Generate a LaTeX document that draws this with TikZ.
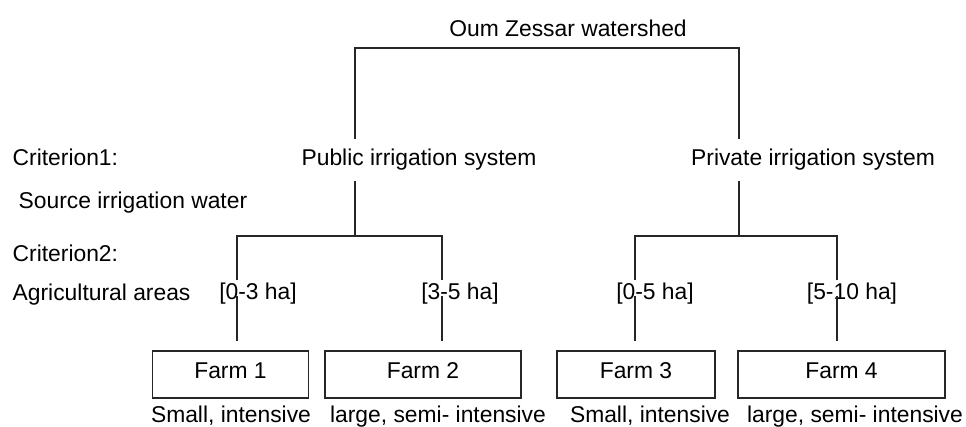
\documentclass[tikz,border=0pt]{standalone}
\usepackage{fontspec}
\setmainfont{Liberation Sans}
\tikzset{
	lbl/.style={inner sep=0pt, text height=0.8em, text depth=0.2em},
	sys/.style={lbl, inner ysep=6.5pt},
	rng/.style={lbl, inner ysep=2.8pt},
	farm/.style={draw, inner sep=0pt, text height=0.7em, text depth=0.3em, minimum height=0.94cm, outer sep=5.7pt},
}

\begin{document}
\begin{tikzpicture}[x=0.02cm, y=-0.02cm, font=\fontsize{13}{15}\selectfont, line width=0.8pt, draw=black!85]
		\useasboundingbox (0,0) rectangle (966,426);
		\node (w)    [lbl]               at (568,31)  {Oum Zessar watershed};
		\node (pub)  [sys]               at (419,160) {Public irrigation system};
		\node (priv) [sys]               at (813,160) {Private irrigation system};
		\node (c1)   [lbl, anchor=west]  at (12,160)  {Criterion1:};
		\node (src)  [lbl, anchor=west]  at (18,203)  {Source irrigation water};
		\node (c2)   [lbl, anchor=west]  at (12,256)  {Criterion2:};
		\node (agr)  [lbl, anchor=west]  at (12,295)  {Agricultural areas};
		\node (r1)   [rng]               at (258,294.5) {[0-3 ha]};
		\node (r2)   [rng]               at (460,294.5) {[3-5 ha]};
		\node (r3)   [rng]               at (655,294.5) {[0-5 ha]};
		\node (r4)   [rng]               at (852,294.5) {[5-10 ha]};
		\node (f1)   [farm, minimum width=3.12cm] at (230.5,374.5) {Farm 1};
		\node (f2)   [farm, minimum width=3.92cm] at (423,374.5)   {Farm 2};
		\node (f3)   [farm, minimum width=3.16cm] at (636,374.5)   {Farm 3};
		\node (f4)   [farm, minimum width=4.14cm] at (841.5,374.5) {Farm 4};
		\node (d1)   [lbl]               at (231,417) {Small, intensive};
		\node (d2)   [lbl]               at (438,417) {large, semi- intensive};
		\node (d3)   [lbl]               at (650,417) {Small, intensive};
		\node (d4)   [lbl]               at (855,417) {large, semi- intensive};
		% branch points
		\coordinate (j0) at (355,48);
		\coordinate (j1) at (739,48);
		\coordinate (a0) at (355,236);
		\coordinate (b0) at (739,236);
		\coordinate (a1) at (237,236);
		\coordinate (a2) at (442,236);
		\coordinate (b1) at (635,236);
		\coordinate (b2) at (837,236);
		\draw (pub.north -| j0) -- (j0) -- (j1) -- (priv.north -| j1);
		\draw (pub.south -| a0) -- (a0);
		\draw (priv.south -| b0) -- (b0);
		\draw (r1.north -| a1) -- (a1) -- (a2) -- (r2.north -| a2);
		\draw (r3.north -| b1) -- (b1) -- (b2) -- (r4.north -| b2);
		\draw [shorten <=-7.4pt] (r1.south -| a1) -- (f1.north -| a1);
		\draw [shorten <=-7.4pt] (r2.south -| a2) -- (f2.north -| a2);
		\draw [shorten <=-7.4pt] (r3.south -| b1) -- (f3.north -| b1);
		\draw [shorten <=-7.4pt] (r4.south -| b2) -- (f4.north -| b2);
\end{tikzpicture}
\end{document}
